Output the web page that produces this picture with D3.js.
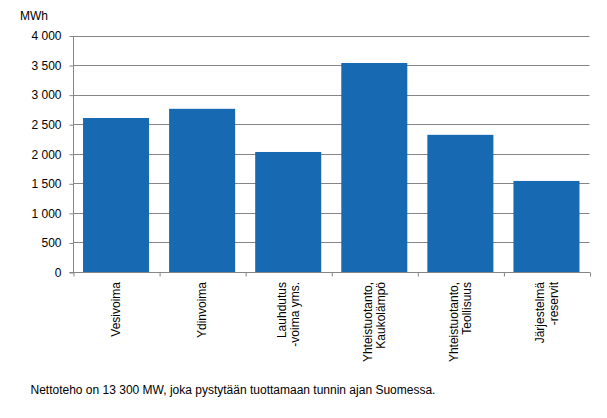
<!DOCTYPE html>
<html><head><meta charset="utf-8">
<script src="https://cdn.jsdelivr.net/npm/d3@7"></script>
<style>body{margin:0;background:#fff}svg{display:block}text{font-family:"Liberation Sans",Arial,sans-serif;fill:#000}</style>
</head><body>
<svg id="c" width="607" height="418"></svg>
<script>
const categories = [["Vesivoima"],["Ydinvoima"],["Lauhdutus","-voima yms."],["Yhteistuotanto,","Kaukolämpö"],["Yhteistuotanto,","Teollisuus"],["Järjestelmä","-reservit"]];
const values = [2605, 2760, 2030, 3535, 2320, 1540];
const yTicks = [0,500,1000,1500,2000,2500,3000,3500,4000];
const unitLabel = "MWh";
const note = "Nettoteho on 13 300 MW, joka pystytään tuottamaan tunnin ajan Suomessa.";

const svg = d3.select("#c");
const L = 73, R = 589.5, T = 35.5, B = 272;
const x = d3.scaleBand().domain(d3.range(categories.length)).range([L, R]).paddingInner(0.233).paddingOuter(0.1165);
const xb = d3.scaleLinear().domain([0, categories.length]).range([L, R]);
const y = d3.scaleLinear().domain([0, 4000]).range([B, T]);
const grid = "#868686";

// gridlines
svg.append("g").selectAll("line").data(yTicks.filter(d=>d>0)).join("line")
  .attr("x1", L).attr("x2", R).attr("y1", d=>Math.round(y(d))+0.5).attr("y2", d=>Math.round(y(d))+0.5)
  .attr("stroke", grid).attr("stroke-width", 1);

// bars
svg.append("g").selectAll("rect").data(values).join("rect")
  .attr("x", (d,i)=>x(i)).attr("width", x.bandwidth())
  .attr("y", d=>y(d)).attr("height", d=>B - y(d))
  .attr("fill", "#1769b1");

// y axis
const yAxis = d3.axisLeft(y).tickValues(yTicks).tickSize(4).tickPadding(8)
  .tickFormat(d => d3.format(",")(d).replace(/,/g, " "));
const gy = svg.append("g").attr("transform", `translate(${L+0.5},0.5)`).call(yAxis);
gy.select(".domain").attr("stroke", grid).attr("d", `M0,${T}V${B}`);
gy.selectAll(".tick line").attr("stroke", grid);
gy.selectAll(".tick text").attr("font-size", 12).attr("font-family", '"Liberation Sans",Arial,sans-serif').attr("fill","#000");

// x axis
const xAxis = d3.axisBottom(xb).tickValues(d3.range(categories.length+1)).tickSize(4).tickFormat("");
const gx = svg.append("g").attr("transform", `translate(0.5,${B+0.5})`).call(xAxis);
gx.select(".domain").attr("stroke", grid).attr("d", `M${L-4},0H${R}`);
gx.selectAll(".tick line").attr("stroke", grid);

// category labels
const lh = 13.5;
const lab = svg.append("g").selectAll("g").data(categories).join("g")
  .attr("transform", (d,i)=>`translate(${x(i)+x.bandwidth()/2},282) rotate(-90)`);
lab.each(function(lines){
  const g = d3.select(this);
  const n = lines.length;
  lines.forEach((s,j)=>{
    g.append("text").attr("x",0).attr("y", (j-(n-1)/2)*lh + 4.3)
      .attr("text-anchor","end").attr("font-size",12).text(s);
  });
});

svg.append("text").attr("x",20).attr("y",20).attr("font-size",12).text(unitLabel);
svg.append("text").attr("x",30.5).attr("y",394).attr("font-size",12).text(note);
</script>
</body></html>
